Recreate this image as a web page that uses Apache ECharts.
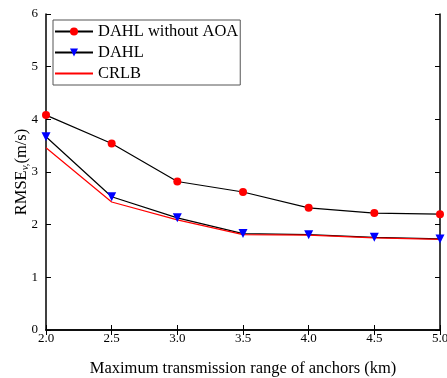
<!DOCTYPE html>
<html><head><meta charset="utf-8">
<script src="https://cdn.jsdelivr.net/npm/echarts@6/dist/echarts.min.js"></script>
<style>html,body{margin:0;padding:0;background:#fff}#c{width:447px;height:378px}</style>
</head><body><div id="c"></div>
<script>
const xValues = [2.0, 2.5, 3.0, 3.5, 4.0, 4.5, 5.0];
const dahlWithoutAoa = [4.08, 3.54, 2.82, 2.62, 2.32, 2.22, 2.20];
const dahl = [3.67, 2.53, 2.13, 1.83, 1.81, 1.76, 1.73];
const crlb = [3.46, 2.43, 2.09, 1.81, 1.80, 1.75, 1.72];
const seriesNames = ['DAHL without AOA', 'DAHL', 'CRLB'];

const font = 'Liberation Serif, Times New Roman, serif';
const pair = a => xValues.map((x, i) => [x, a[i]]);
const chart = echarts.init(document.getElementById('c'));
const axisLine = {show: true, lineStyle: {color: '#000', width: 1.5}};
const tick = {inside: true, length: 5, lineStyle: {color: '#000', width: 1}};
chart.setOption({
  animation: false,
  grid: {left: 46, top: 14, right: 7, bottom: 48, containLabel: false, outerBoundsMode: 'none'},
  legend: {
    left: 53, top: 20, orient: 'vertical',
    data: [
      {name: seriesNames[0]},
      {name: seriesNames[1]},
      {name: seriesNames[2], itemStyle: {opacity: 0}}
    ],
    itemWidth: 38, itemHeight: 10, itemGap: 4,
    borderColor: '#555', borderWidth: 1, borderRadius: 0,
    padding: [3, 2, 3, 1],
    textStyle: {fontFamily: font, fontSize: 16.5, color: '#000', padding: [0, 0, 0, 0]}
  },
  xAxis: [{
    type: 'value', min: 2, max: 5, interval: 0.5,
    name: 'Maximum transmission range of anchors (km)',
    nameLocation: 'middle', nameGap: 30, nameMoveOverlap: false,
    nameTextStyle: {fontFamily: font, fontSize: 16.5, color: '#000'},
    axisLine: axisLine, axisTick: tick,
    axisLabel: {fontFamily: font, fontSize: 13, color: '#000', margin: 2, formatter: v => v.toFixed(1)},
    splitLine: {show: false}
  }, {
    type: 'value', min: 2, max: 5, interval: 0.5, position: 'top',
    axisLine: axisLine, axisTick: tick,
    axisLabel: {show: false}, splitLine: {show: false}
  }],
  yAxis: [{
    type: 'value', min: 0, max: 6, interval: 1,
    name: '{a|RMSE}{s|v,}{a|(m/s)}',
    nameLocation: 'middle', nameGap: 15, nameMoveOverlap: false,
    nameTextStyle: {
      rich: {
        a: {fontFamily: font, fontSize: 16.5, color: '#000'},
        s: {fontFamily: font, fontSize: 11, fontStyle: 'italic', color: '#000', padding: [8, 0, 0, 0]}
      }
    },
    axisLine: axisLine, axisTick: tick,
    axisLabel: {fontFamily: font, fontSize: 13, color: '#000', margin: 8},
    splitLine: {show: false}
  }, {
    type: 'value', min: 0, max: 6, interval: 1, position: 'right',
    axisLine: axisLine, axisTick: tick,
    axisLabel: {show: false}, splitLine: {show: false}
  }],
  series: [{
    name: seriesNames[0], type: 'line', data: pair(dahlWithoutAoa),
    symbol: 'circle', symbolSize: 8,
    lineStyle: {color: '#000', width: 1.2},
    itemStyle: {color: '#ff0000', borderWidth: 0}
  }, {
    name: seriesNames[1], type: 'line', data: pair(dahl),
    symbol: 'triangle', symbolRotate: 180, symbolSize: 9,
    lineStyle: {color: '#000', width: 1.2},
    itemStyle: {color: '#0000ff', borderWidth: 0}
  }, {
    name: seriesNames[2], type: 'line', data: pair(crlb),
    symbol: 'none',
    lineStyle: {color: '#ff0000', width: 1.2},
    itemStyle: {color: '#ff0000'}
  }]
});
</script></body></html>
